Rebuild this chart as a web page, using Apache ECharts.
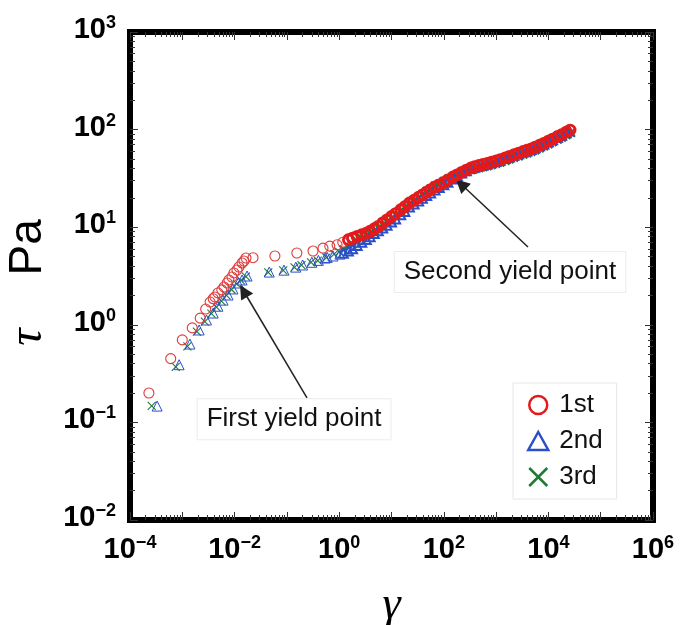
<!DOCTYPE html>
<html><head><meta charset="utf-8">
<script src="https://cdn.jsdelivr.net/npm/echarts@6/dist/echarts.min.js"></script>
<style>html,body{margin:0;padding:0;background:#fff}#c{width:682px;height:625px}</style>
</head><body><div id="c"></div>
<script>
// ---------- data ----------
const seriesNames = ['1st', '2nd', '3rd'];
const xTickLabels = [1e-4, 1e-2, 1e0, 1e2, 1e4, 1e6];
const yTickLabels = [1e-2, 1e-1, 1e0, 1e1, 1e2, 1e3];
const annotationTexts = ['First yield point', 'Second yield point'];

// 1st run (red circles)
const firstLow = [[2.3e-4,0.20],[6.0e-4,0.45],[1.0e-3,0.70],[1.55e-3,0.93],[2.2e-3,1.17],[2.8e-3,1.45],[3.4e-3,1.71],[3.9e-3,1.85],[4.2e-3,1.93],[4.8e-3,2.12],[5.7e-3,2.28],[6.3e-3,2.44],[7.2e-3,2.68],[7.8e-3,2.88],[8.9e-3,3.09],[9.7e-3,3.40],[0.0111,3.64],[0.0121,3.91],[0.0139,4.30],[0.0151,4.50],[0.0165,4.83],[0.0225,4.87],[0.059,5.07],[0.155,5.44],[0.316,5.70],[0.49,6.10],[0.66,6.40],[0.91,6.60],[1.17,7.00]];
const firstBand = [[1.5,7.45],[1.8,7.73],[2.2,8.05],[2.7,8.37],[3.3,8.67],[3.9,9.1],[4.7,9.64],[5.6,10.2],[6.8,11.1],[8.2,11.9],[10,12.9],[12,13.8],[15,15.1],[18,16.2],[22,17.7],[27,18.9],[33,20.3],[39,21.4],[47,22.9],[56,24.3],[68,25.9],[82,27.2],[100,28.8],[120,30.5],[150,32.7],[180,34.4],[220,36.5],[270,38.5],[330,40.5],[390,41.8],[470,42.9],[560,43.9],[680,45.1],[820,46.5],[1000,47.9],[1200,49.2],[1500,51.4],[1800,53.2],[2200,55.3],[2700,57.4],[3300,59.7],[3900,61.4],[4700,63.5],[5600,66.1],[6800,69.2],[8200,72.4],[10000,76.2],[12000,80],[15000,85],[18000,89],[22000,94.4],[26000,98.9]];

// 2nd run (blue triangles)
const secondLow = [[3.3e-4,0.147],[8.7e-4,0.39],[1.4e-3,0.635],[2.1e-3,0.885],[2.9e-3,1.12],[3.9e-3,1.32],[4.8e-3,1.55],[6.0e-3,1.79],[7.5e-3,2.02],[9.3e-3,2.33],[0.0117,2.68],[0.0139,2.88],[0.0173,3.16],[0.046,3.47],[0.088,3.63],[0.148,3.90],[0.20,4.10],[0.30,4.37],[0.40,4.57],[0.54,4.83],[0.59,4.90],[0.76,5.07],[1.03,5.30]];
const secondBand = [[1.2,5.42],[1.5,5.7],[1.8,6.0],[2.2,6.5],[2.7,7.0],[3.3,7.5],[3.9,8.0],[4.7,8.6],[5.6,9.2],[6.8,9.8],[8.2,10.5],[10,11.3],[12,12.1],[15,13.4],[18,14.5],[22,16.1],[27,17.3],[33,18.6],[39,19.8],[47,21.1],[56,22.4],[68,24.0],[82,25.5],[100,27.2],[120,28.9],[150,31.2],[180,33.9],[220,36.0],[270,37.9],[330,39.9],[390,41.2],[470,42.3],[560,43.2],[680,44.4],[820,45.8],[1000,47.2],[1200,48.5],[1500,50.6],[1800,52.4],[2200,54.5],[2700,56.5],[3300,58.8],[3900,60.5],[4700,62.5],[5600,65.1],[6800,68.2],[8200,71.3],[10000,75.1],[12000,78.8],[15000,83.7],[18000,87.7],[22000,93.0],[25000,96.8]];

// 3rd run (green crosses)
const thirdLow = [[2.6e-4,0.148],[7.5e-4,0.37],[1.25e-3,0.60],[1.9e-3,0.85],[2.7e-3,1.08],[3.6e-3,1.30],[4.5e-3,1.52],[5.6e-3,1.75],[7.0e-3,2.00],[8.7e-3,2.30],[0.011,2.63],[0.0132,2.85],[0.0165,3.12],[0.044,3.45],[0.085,3.62],[0.14,3.88],[0.19,4.08],[0.29,4.35],[0.39,4.55],[0.57,4.88],[0.8,5.3],[1.0,5.6]];
const thirdBand = [[1.2,5.9],[1.5,6.3],[1.8,6.7],[2.2,7.2],[2.7,7.7],[3.3,8.2],[3.9,8.6],[4.7,9.2],[5.6,9.8],[6.8,10.6],[8.2,11.3],[10,12.3],[12,13.3],[15,14.7],[18,15.9],[22,17.5],[27,18.9],[33,20.4],[39,21.7],[47,23.3],[56,24.8],[68,26.5],[82,27.9],[100,29.5],[120,31.1],[150,33.0],[180,34.3],[220,35.6],[270,37.0],[330,38.5],[390,39.5],[470,40.4],[560,41.3],[680,42.3],[820,43.5],[1000,44.8],[1200,46.0],[1500,48.0],[1800,49.6],[2200,51.6],[2700,53.5],[3300,55.6],[3900,57.2],[4700,59.2],[5600,61.6],[6800,64.5],[8200,67.5],[10000,71.0],[12000,74.6],[15000,79.3],[18000,83.0],[22000,88.0],[27000,93.0]];

// annotation anchors (data space): arrow tail, arrow head centre, text centre
const firstYieldArrow = [[0.242, 0.178], [0.01486, 2.22]];
const firstYieldText = [0.137, 0.108];
const secondYieldArrow = [[4070, 6.27], [213, 27.7]];
const secondYieldText = [1845, 3.47];

// ---------- styling ----------
const RED = '#e41a1a', BLUE = '#2a4fc9', GREEN = '#1e7b34';
const CROSS = 'path://M0,0L10,10M0,10L10,0';

function minorValues(lo, hi) {
  const out = [];
  for (let e = lo; e < hi; e++) for (let k = 2; k <= 9; k++) out.push(k * Math.pow(10, e));
  return out;
}
function majorValues(lo, hi) {
  const out = [];
  for (let e = lo; e <= hi; e++) out.push(Math.pow(10, e));
  return out;
}
function fmt(v) {
  const e = Math.round(Math.log10(v));
  return '{b|10}{s|' + (e < 0 ? '\u2212' + (-e) : e) + '}';
}
const labelRich = {
  b: { fontFamily: 'Liberation Sans', fontWeight: 'bold', fontSize: 29, lineHeight: 32, color: '#000' },
  s: { fontFamily: 'Liberation Sans', fontWeight: 'bold', fontSize: 18, lineHeight: 18, verticalAlign: 'top', color: '#000' }
};

function makeAxis(dim, pos, kind) {
  const isX = dim === 'x';
  const lo = isX ? -4 : -2, hi = isX ? 6 : 3;
  const ax = {
    type: 'log', logBase: 10, min: Math.pow(10, lo), max: Math.pow(10, hi),
    position: pos, gridIndex: 0,
    axisLine: { show: false },
    splitLine: { show: false },
    axisTick: {
      show: true, inside: true,
      length: kind === 'major' ? 8 : 5,
      lineStyle: { color: '#333', width: 1 },
      customValues: kind === 'major' ? majorValues(lo, hi) : minorValues(lo, hi)
    },
    axisLabel: { show: false }
  };
  if (kind === 'major' && (pos === 'bottom' || pos === 'left')) {
    ax.axisLabel = {
      show: true,
      customValues: isX ? xTickLabels : yTickLabels,
      formatter: fmt,
      rich: labelRich,
      margin: 14,
      padding: isX ? 0 : [0, 0, 4, 0],
      hideOverlap: false
    };
  }
  return ax;
}

const xAxes = [makeAxis('x', 'bottom', 'major'), makeAxis('x', 'bottom', 'minor'), makeAxis('x', 'top', 'major'), makeAxis('x', 'top', 'minor')];
const yAxes = [makeAxis('y', 'left', 'major'), makeAxis('y', 'left', 'minor'), makeAxis('y', 'right', 'major'), makeAxis('y', 'right', 'minor')];

xAxes[0].name = 'γ';
xAxes[0].nameLocation = 'middle';
xAxes[0].nameGap = 63;
xAxes[0].nameTextStyle = { fontFamily: 'Liberation Serif', fontStyle: 'italic', fontSize: 46, color: '#000' };

yAxes[0].name = '{t|τ}{g|}{p|Pa}';
yAxes[0].nameLocation = 'middle';
yAxes[0].nameRotate = 90;
yAxes[0].nameGap = 68;
yAxes[0].nameTextStyle = {
  padding: [0, 13, 0, 0],
  rich: {
    t: { fontFamily: 'Liberation Serif', fontStyle: 'italic', fontSize: 48, color: '#000' },
    g: { width: 53 },
    p: { fontFamily: 'Liberation Sans', fontSize: 46, color: '#000' }
  }
};

function scatter(name, data, symbol, color, size, bw, z) {
  return {
    type: 'scatter', name: name, data: data, symbol: symbol, symbolSize: size, z: z,
    xAxisIndex: 0, yAxisIndex: 0,
    itemStyle: { color: 'transparent', borderColor: color, borderWidth: bw, opacity: 1 },
    emphasis: { disabled: true }
  };
}

const series = [
  scatter(seriesNames[2], thirdLow, CROSS, GREEN, 8, 1.1, 3),
  scatter(seriesNames[2], thirdBand, CROSS, GREEN, 8, 2.2, 3),
  scatter(seriesNames[1], secondLow, 'triangle', BLUE, 10, 1.0, 4),
  scatter(seriesNames[1], secondBand, 'triangle', BLUE, 9, 2.0, 4),
  scatter(seriesNames[0], firstLow, 'circle', '#dd3b3b', 10, 1.1, 5),
  scatter(seriesNames[0], firstBand, 'circle', RED, 10, 2.8, 5)
];

const annoLabel = {
  show: true, position: 'inside', color: '#111',
  fontFamily: 'Liberation Sans', fontSize: 26,
  backgroundColor: '#fff', borderColor: '#ececec', borderWidth: 1,
  padding: [7, 9, 7, 9]
};
series.push({
  type: 'scatter', name: 'annotations', data: [], xAxisIndex: 0, yAxisIndex: 0, z: 10,
  markLine: {
    silent: true, animation: false,
    symbol: ['none', 'triangle'], symbolSize: 14,
    lineStyle: { color: '#222', width: 1.5, type: 'solid' },
    label: { show: false },
    data: [
      [{ coord: firstYieldArrow[0] }, { coord: firstYieldArrow[1] }],
      [{ coord: secondYieldArrow[0] }, { coord: secondYieldArrow[1] }]
    ]
  },
  markPoint: {
    silent: true, animation: false,
    symbol: 'rect', symbolSize: 1, itemStyle: { color: 'transparent' },
    data: [
      { coord: firstYieldText, label: Object.assign({}, annoLabel, { formatter: annotationTexts[0] }) },
      { coord: secondYieldText, label: Object.assign({}, annoLabel, { formatter: annotationTexts[1] }) }
    ]
  }
});

const chart = echarts.init(document.getElementById('c'), null, { renderer: 'canvas' });
chart.setOption({
  animation: false,
  backgroundColor: '#fff',
  grid: { left: 130, right: 29, top: 32, bottom: 105, outerBoundsMode: 'none', containLabel: false, show: true, borderColor: '#000', borderWidth: 6, backgroundColor: 'transparent' },
  xAxis: xAxes,
  yAxis: yAxes,
  legend: {
    orient: 'vertical', left: 513, top: 383,
    itemWidth: 20, itemHeight: 18, itemGap: 10,
    padding: [9, 14, 9, 14],
    backgroundColor: '#fff', borderColor: '#e6e6e6', borderWidth: 1,
    textStyle: { fontFamily: 'Liberation Sans', fontSize: 26, lineHeight: 26, color: '#111', padding: [0, 0, 0, 6] },
    selectedMode: false,
    data: [
      { name: seriesNames[0], icon: 'circle', itemStyle: { color: 'transparent', borderColor: RED, borderWidth: 2.5 } },
      { name: seriesNames[1], icon: 'triangle', itemStyle: { color: 'transparent', borderColor: BLUE, borderWidth: 2.5 } },
      { name: seriesNames[2], icon: CROSS, itemStyle: { color: 'transparent', borderColor: GREEN, borderWidth: 2.5 } }
    ]
  },
  series: series
});
</script>
</body></html>
